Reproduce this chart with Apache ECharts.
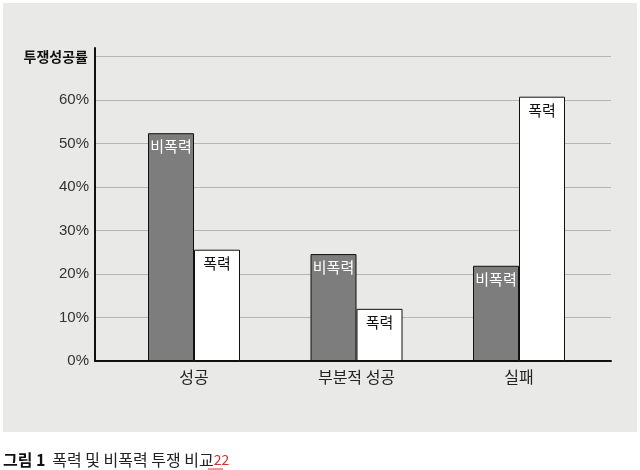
<!DOCTYPE html>
<html><head><meta charset="utf-8">
<script src="https://cdn.jsdelivr.net/npm/echarts@6/dist/echarts.min.js"></script>
<style>html,body{margin:0;padding:0;background:#fff}#c{width:640px;height:470px}</style>
</head><body><div id="c"></div>
<script>
const categories = ['성공', '부분적 성공', '실패'];
const nonviolent = [52.4, 24.6, 21.9];
const violent = [25.6, 12.0, 60.8];
const nonviolentLabel = '비폭력';
const violentLabel = '폭력';
const yTicks = [0, 10, 20, 30, 40, 50, 60];
const yNameTick = 70;
const yAxisName = '투쟁성공률';
const captionBold = '그림 1';
const captionText = '폭력 및 비폭력 투쟁 비교';
const captionRef = '22';

const FONT = '"Liberation Sans", "Noto Sans CJK KR", sans-serif';
const KR = '"Noto Sans CJK KR", sans-serif';
const chart = echarts.init(document.getElementById('c'), null, {renderer: 'canvas'});
const yMax = 72;
chart.setOption({
  animation: false,
  backgroundColor: '#ffffff',
  textStyle: {fontFamily: FONT},
  graphic: [
    {type: 'rect', z: -10, shape: {x: 3, y: 3, width: 634, height: 429}, style: {fill: '#e9e9e7'}},
    {type: 'text', left: 3, top: 452, style: {
      text: '{b|' + captionBold + '}  {n|' + captionText + '}{r|' + captionRef + '}',
      rich: {
        b: {fontFamily: KR, fontSize: 16, fontWeight: 'bold', fill: '#111'},
        n: {fontFamily: KR, fontSize: 16, fill: '#222'},
        r: {fontFamily: KR, fontSize: 14, fill: '#d8322e'}
      }}},
    {type: 'line', shape: {x1: 208, y1: 469, x2: 223, y2: 469}, style: {stroke: '#d8322e', lineWidth: 1}}
  ],
  grid: [
    {left: 95, right: 29, top: 48, bottom: 109},
    {left: 112.75, right: 39.75, top: 48, bottom: 109}
  ],
  xAxis: [
    {gridIndex: 0, type: 'value', min: 0, max: 1,
      axisLine: {show: true, onZero: false, lineStyle: {color: '#111', width: 2}},
      axisTick: {show: false}, axisLabel: {show: false}, splitLine: {show: false}},
    {gridIndex: 1, type: 'category', data: categories,
      axisLine: {show: false}, axisTick: {show: false},
      axisLabel: {margin: 8, fontSize: 16, color: '#222', fontFamily: KR}}
  ],
  yAxis: [
    {gridIndex: 0, type: 'value', min: 0, max: yMax, interval: 10,
      axisLine: {show: true, lineStyle: {color: '#111', width: 2}},
      axisTick: {show: false},
      axisLabel: {margin: 6, fontSize: 15, color: '#333', showMaxLabel: false,
        formatter: v => v === yNameTick ? '{n|' + yAxisName + '}' : (yTicks.includes(v) ? v + '%' : ''),
        rich: {n: {fontFamily: KR, fontSize: 14, fontWeight: 'bold', color: '#111', padding: [0, 1, 0, 0]}}},
      splitLine: {show: true, showMinLine: false, showMaxLine: false, lineStyle: {color: '#b5b5b5', width: 1}}},
    {gridIndex: 1, type: 'value', min: 0, max: yMax, show: false, splitLine: {show: false}}
  ],
  series: [
    {name: nonviolentLabel, type: 'bar', xAxisIndex: 1, yAxisIndex: 1, data: nonviolent,
      barWidth: 46, barGap: '0%',
      itemStyle: {color: '#7d7d7d', borderColor: '#111', borderWidth: 1},
      label: {show: true, position: 'insideTop', distance: 6, formatter: nonviolentLabel,
        color: '#fff', fontSize: 15, fontFamily: KR}},
    {name: violentLabel, type: 'bar', xAxisIndex: 1, yAxisIndex: 1, data: violent,
      barWidth: 46, barGap: '0%',
      itemStyle: {color: '#ffffff', borderColor: '#111', borderWidth: 1},
      label: {show: true, position: 'insideTop', distance: 6, formatter: violentLabel,
        color: '#111', fontSize: 15, fontFamily: KR}}
  ]
});
</script></body></html>
